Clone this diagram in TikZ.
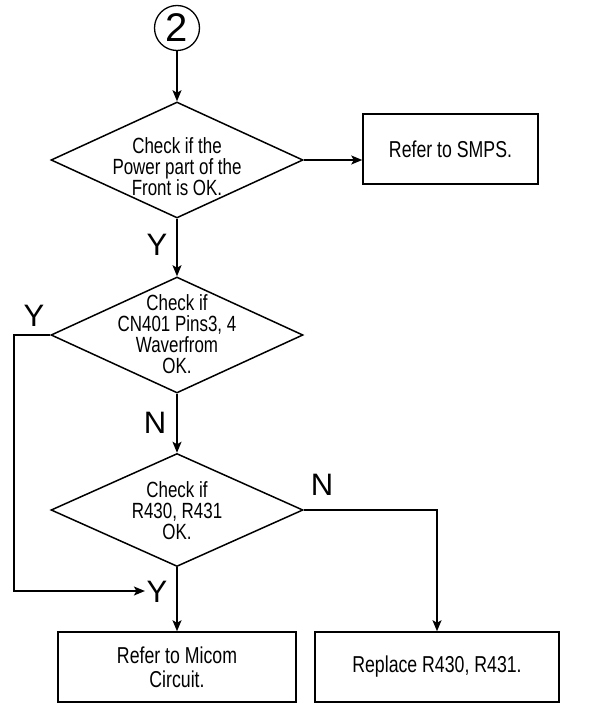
\documentclass[tikz,border=0pt]{standalone}
\usepackage{fontspec}
\setmainfont{Liberation Sans}[FakeStretch=0.77]
\newfontfamily\markfont{Liberation Sans}
\usetikzlibrary{arrows.meta,positioning,shapes.geometric}

\begin{document}
\begin{tikzpicture}[
    x=1pt, y=-1pt,
    line width=1.5pt,
    check/.style={draw,diamond,minimum width=252pt,minimum height=116pt,inner sep=0pt},
    checktext/.style={align=center,font=\fontsize{22}{21}\selectfont,inner sep=0pt},
    box/.style={draw,align=center,minimum height=70pt,font=\fontsize{23}{24}\selectfont},
    yn/.style={font=\markfont\fontsize{31}{31}\selectfont,inner sep=0pt},
    arrow/.style={-{Stealth[length=11pt,width=9pt,inset=2.5pt]}}
]
\useasboundingbox (0,0) rectangle (611,706);

\node[draw,circle,minimum size=45pt,inner sep=0pt,line width=1.3pt,
    font=\markfont\fontsize{40}{40}\selectfont] (start) at (177,28) {2};
\node[check] (front) at (177,160) {};
\node[checktext] (fronttext) at (177,167) {Check if the\\Power part of the\\Front is OK.};
\node[box,minimum width=175pt] (smps) at (450.5,149) {Refer to SMPS.};
\node[check] (pins) at (177,335) {};
\node[checktext] (pinstext) at (177,334) {Check if\\CN401 Pins3, 4\\Waverfrom\\OK.};
\node[check,minimum height=113pt] (resist) at (177,510) {};
\node[checktext] (resisttext) at (177,511) {Check if\\R430, R431\\OK.};
\node[box,minimum width=238pt] (micom) at (177,667) {Refer to Micom\\Circuit.};
\node[box,minimum width=244pt] (replace) at (437,667) {Replace R430, R431.};

% Y / N marks
\node[yn] (yfront) at (157,245) {Y};
\node[yn] (ypins) at (34,316) {Y};
\node[yn] (npins) at (155,423) {N};
\node[yn] (nresist) at (322,485) {N};
\node[yn] (ymicom) at (157,592) {Y};
\coordinate (loop) at (14,591);

\draw[arrow] (start) -- (front);
\draw[arrow] (front.east) -- (front.east -| smps.west);
\draw[arrow] (front) -- (pins);
\draw[arrow] (pins) -- (resist);
\draw[arrow] (resist) -- (micom);
\draw[arrow] (resist.east) -| (replace.north);
\draw[arrow,shorten >=1pt] (pins.west) -| (loop) -- (ymicom.west |- loop);
\end{tikzpicture}
\end{document}
